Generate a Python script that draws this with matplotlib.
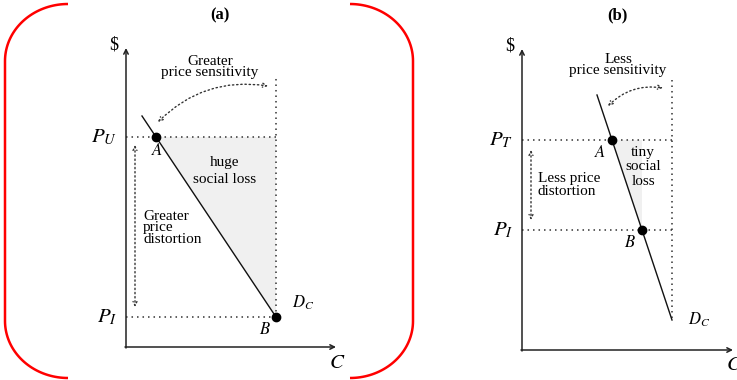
import numpy as np
import matplotlib
matplotlib.use("Agg")
import matplotlib.pyplot as plt

plt.rcParams['font.family'] = ['Liberation Serif', 'DejaVu Serif']
plt.rcParams['mathtext.fontset'] = 'stix'

W, H = 737, 380

# ---- panel data (price on y, consumption on x) ----
# (a) elastic demand: big gap between unsubsidised and insured price
a_price_top, a_price_low = 10.5, 1.5
a_demand_c = [0.8, 7.5]
a_demand_p = [11.55, 1.5]
a_point_c = [1.5, 7.5]
a_point_p = [10.5, 1.5]
a_top_label = r'$P_U$'

# (b) inelastic demand: smaller gap, small loss
b_price_top, b_price_low = 10.5, 6.0
b_demand_c = [3.75, 7.5]
b_demand_p = [12.75, 1.5]
b_point_c = [4.5, 6.0]
b_point_p = [10.5, 6.0]
b_top_label = r'$P_T$'

DOT = (0, (1, 2.6))
DOT_COL = '#333'
TXT = 11


def setup_axes(left_px, right_px, bottom_px):
    # 20 px per data unit, xlim -2.., ylim -1.5..16.5
    xlo = -2.0
    xhi = xlo + (right_px - left_px) / 20.0
    ax = fig.add_axes([left_px / W, bottom_px / H, (right_px - left_px) / W, 360 / H])
    ax.set_xlim(xlo, xhi)
    ax.set_ylim(-1.5, 16.5)
    ax.axis('off')
    return ax


def draw_axes(ax, x_end, y_end):
    ax.annotate('', xy=(0, y_end), xytext=(0, -0.05),
                arrowprops=dict(arrowstyle='->', lw=1.1, color='#222', shrinkA=0, shrinkB=0,
                                mutation_scale=8))
    ax.annotate('', xy=(x_end, 0), xytext=(-0.05, 0),
                arrowprops=dict(arrowstyle='->', lw=1.1, color='#222', shrinkA=0, shrinkB=0,
                                mutation_scale=8))
    ax.text(-0.6, y_end + 0.15, r'\$', fontsize=13, ha='center', va='center')
    ax.text(x_end + 0.05, -0.8, r'$C$', fontsize=15, ha='center', va='center')


def double_arrow(ax, p0, p1, rad=0.0):
    ax.annotate('', xy=p1, xytext=p0,
                arrowprops=dict(arrowstyle='<->', lw=1.0, color=DOT_COL, linestyle=(0, (1, 2)),
                                shrinkA=0, shrinkB=0, mutation_scale=7,
                                connectionstyle='arc3,rad=%s' % rad))


fig = plt.figure(figsize=(W / 100, H / 100), dpi=100)

# ---------------- panel (a) ----------------
ax = setup_axes(86, 346, 3)
draw_axes(ax, 10.5, 14.95)
cB = a_point_c[1]
ax.fill([a_point_c[0], cB, cB], [a_price_top, a_price_top, a_price_low],
        color='#f0f0f0', lw=0, zorder=0)
ax.plot([0, cB], [a_price_top, a_price_top], ls=DOT, lw=1.1, color=DOT_COL)
ax.plot([0, cB], [a_price_low, a_price_low], ls=DOT, lw=1.1, color=DOT_COL)
ax.plot([cB, cB], [1.5, 13.5], ls=DOT, lw=1.1, color=DOT_COL)
ax.plot(a_demand_c, a_demand_p, color='#111', lw=1)
ax.plot(a_point_c, a_point_p, 'o', color='black', ms=6, zorder=5)
double_arrow(ax, (0.45, 10.1), (0.45, 2.0))
double_arrow(ax, (1.6, 11.25), (7.1, 13.05), rad=-0.25)
ax.text(-0.45, a_price_top, a_top_label, fontsize=15, ha='right', va='center')
ax.text(-0.45, a_price_low, r'$P_I$', fontsize=15, ha='right', va='center')
ax.text(1.55, 9.8, r'$A$', fontsize=12, ha='center', va='center')
ax.text(6.95, 0.85, r'$B$', fontsize=12, ha='center', va='center')
ax.text(8.3, 2.2, r'$D_C$', fontsize=12, ha='left', va='center')
ax.text(4.2, 14.0, 'Greater\nprice sensitivity', fontsize=TXT, ha='center', va='center',
        linespacing=0.8)
ax.text(4.95, 8.8, 'huge\nsocial loss', fontsize=TXT, ha='center', va='center',
        linespacing=1.45)
ax.text(0.85, 5.95, 'Greater\nprice\ndistortion', fontsize=TXT, ha='left', va='center',
        linespacing=0.85)
ax.text(4.7, 16.6, '(a)', fontsize=12, fontweight='bold', ha='center', va='center')

# ---------------- panel (b) ----------------
ax = setup_axes(482, 737, 0)
draw_axes(ax, 10.55, 15.05)
cB = b_point_c[1]
ax.fill([b_point_c[0], cB, cB], [b_price_top, b_price_top, b_price_low],
        color='#f0f0f0', lw=0, zorder=0)
ax.plot([0, 7.5], [b_price_top, b_price_top], ls=DOT, lw=1.1, color=DOT_COL)
ax.plot([0, 7.5], [b_price_low, b_price_low], ls=DOT, lw=1.1, color=DOT_COL)
ax.plot([7.5, 7.5], [1.6, 13.5], ls=DOT, lw=1.1, color=DOT_COL)
ax.plot(b_demand_c, b_demand_p, color='#111', lw=1)
ax.plot(b_point_c, b_point_p, 'o', color='black', ms=6, zorder=5)
double_arrow(ax, (0.45, 10.0), (0.45, 6.5))
double_arrow(ax, (4.3, 12.2), (7.05, 13.1), rad=-0.25)
ax.text(-0.45, b_price_top, b_top_label, fontsize=15, ha='right', va='center')
ax.text(-0.45, b_price_low, r'$P_I$', fontsize=15, ha='right', va='center')
ax.text(3.9, 9.85, r'$A$', fontsize=12, ha='center', va='center')
ax.text(5.4, 5.35, r'$B$', fontsize=12, ha='center', va='center')
ax.text(8.3, 1.5, r'$D_C$', fontsize=12, ha='left', va='center')
ax.text(4.8, 14.27, 'Less\nprice sensitivity', fontsize=TXT, ha='center', va='center',
        linespacing=0.8)
ax.text(6.05, 9.15, 'tiny\nsocial\nloss', fontsize=TXT, ha='center', va='center',
        linespacing=1.15)
ax.text(0.8, 8.25, 'Less price\ndistortion', fontsize=TXT, ha='left', va='center',
        linespacing=1.0)
ax.text(4.75, 16.75, '(b)', fontsize=12, fontweight='bold', ha='center', va='center')

# ---------------- red bracket around panel (a) ----------------
bx = fig.add_axes([0, 0, 1, 1])
bx.set_xlim(0, W)
bx.set_ylim(H, 0)
bx.axis('off')
rx, ry = 63, 57
t = np.linspace(0, np.pi / 2, 40)
x0, x1, y0, y1 = 5, 413, 4, 378
# left side
lx = np.concatenate([x0 + rx - rx * np.sin(t), [x0, x0], x0 + rx - rx * np.cos(t)])
ly = np.concatenate([y0 + ry - ry * np.cos(t), [y0 + ry, y1 - ry], y1 - ry + ry * np.sin(t)])
bx.plot(lx, ly, color='red', lw=1.8, solid_capstyle='butt')
# right side
bx.plot(x0 + x1 - lx, ly, color='red', lw=1.8, solid_capstyle='butt')

fig.savefig('out.png', dpi=100)
